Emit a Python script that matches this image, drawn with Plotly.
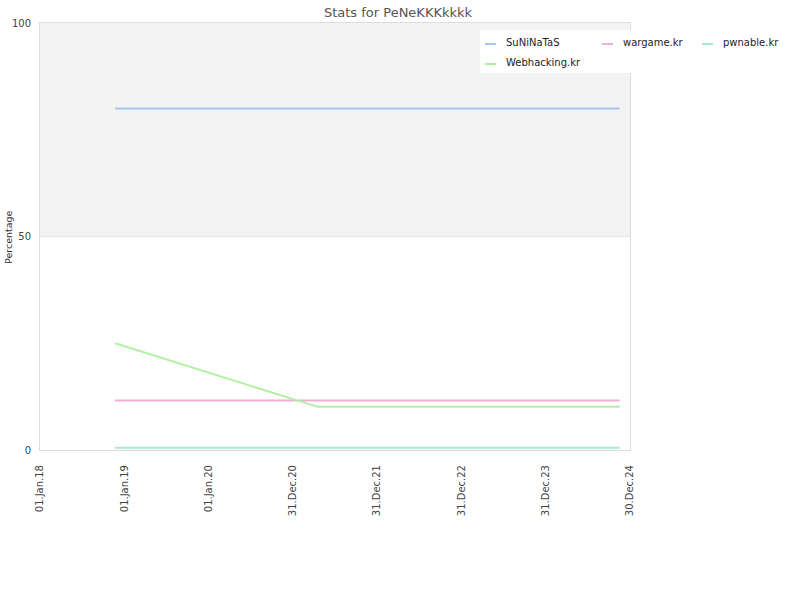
import plotly.graph_objects as go

series_names = ["SuNiNaTaS", "wargame.kr", "pwnable.kr", "Webhacking.kr"]
series_colors = ["#a4c6f2", "#f3acd3", "#a2ebcb", "#b3f0a6"]
series_dates = [
    ["2018-11-22", "2024-11-15"],
    ["2018-11-22", "2024-11-15"],
    ["2018-11-22", "2024-11-15"],
    ["2018-11-22", "2021-04-18", "2024-11-15"],
]
series_values = [
    [80, 80],
    [11.6, 11.6],
    [0.5, 0.5],
    [25, 10.1, 10.1],
]
tick_dates = ["2018-01-01", "2019-01-01", "2020-01-01", "2020-12-31",
              "2021-12-31", "2022-12-31", "2023-12-31", "2024-12-30"]
tick_labels = ["01.Jan.18", "01.Jan.19", "01.Jan.20", "31.Dec.20",
               "31.Dec.21", "31.Dec.22", "31.Dec.23", "30.Dec.24"]

# plot area in pixels (for the hand-drawn legend layout)
PL, PR, PT, PB = 40, 630, 23, 450
def px(x):
    return (x - PL) / (PR - PL)
def py(y):
    return (PB - y) / (PB - PT)

fig = go.Figure()
for name, color, xs, ys in zip(series_names, series_colors, series_dates, series_values):
    fig.add_trace(go.Scatter(x=xs, y=ys, mode="lines", name=name, showlegend=False,
                             line=dict(color=color, width=2)))

fig.add_shape(type="rect", xref="paper", yref="y", x0=0, x1=1, y0=50, y1=100,
              fillcolor="#f3f3f3", line_width=0, layer="below")

# legend box
fig.add_shape(type="rect", xref="paper", yref="paper", x0=px(480), x1=px(800),
              y0=py(73), y1=py(30), fillcolor="white", line_width=0, layer="above")
legend_pos = [(485, 44), (602, 44), (702, 44), (485, 64)]
for (lx, ly), name, color in zip(legend_pos, series_names, series_colors):
    fig.add_shape(type="line", xref="paper", yref="paper", x0=px(lx), x1=px(lx + 11),
                  y0=py(ly), y1=py(ly), line=dict(color=color, width=2), layer="above")
    fig.add_annotation(xref="paper", yref="paper", x=px(lx + 19), y=py(ly - 1.5),
                       text=name, showarrow=False, xanchor="left", yanchor="middle",
                       font=dict(size=10, color="#222"))

# y-axis title placed as in the reference
fig.add_annotation(xref="paper", yref="paper", x=px(8), y=py(237), text="Percentage",
                   textangle=-90, showarrow=False, xanchor="center", yanchor="middle",
                   font=dict(size=9.5, color="#333"))

fig.update_layout(
    width=800, height=600,
    margin=dict(l=PL, r=800 - PR, t=PT, b=600 - PB, autoexpand=False),
    paper_bgcolor="white", plot_bgcolor="white",
    font=dict(family="DejaVu Sans", size=10, color="#444"),
    title=dict(text="Stats for PeNeKKKkkkk", x=0.4975, xanchor="center", y=1 - 12 / 600,
               yanchor="middle", font=dict(size=13, color="#555")),
    showlegend=False,
    xaxis=dict(range=[tick_dates[0], tick_dates[-1]], tickvals=tick_dates, ticktext=tick_labels,
               tickangle=-90, showgrid=False, showline=True, linecolor="#dddddd", mirror=True,
               ticks="", zeroline=False, automargin=False, ticklabelstandoff=10,
               tickfont=dict(size=10, color="#444")),
    yaxis=dict(range=[0, 100], tickvals=[0, 50, 100], showgrid=True, gridcolor="#e4e4e4",
               showline=True, linecolor="#dddddd", mirror=True, ticks="", zeroline=False,
               automargin=False, ticklabelstandoff=6,
               tickfont=dict(size=10, color="#444")),
)

fig.write_html("out.html")
